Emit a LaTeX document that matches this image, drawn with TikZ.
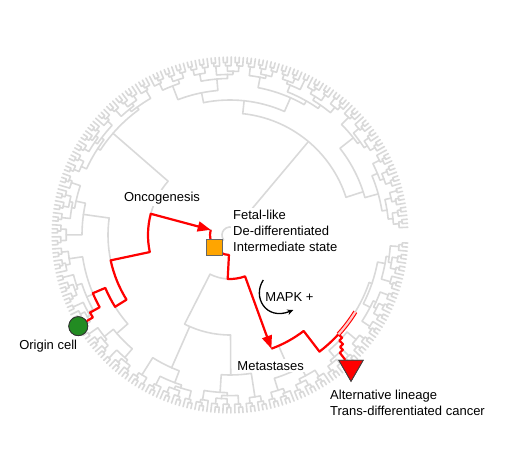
\documentclass[tikz,border=0pt]{standalone}
\usepackage{fontspec}
\setmainfont{Liberation Sans}
\usetikzlibrary{arrows.meta,shapes.geometric}
\definecolor{OriginGreen}{RGB}{34,139,34}
\definecolor{FetalOrange}{RGB}{255,165,0}

% leaves #1..#2, node radius #3, stem angle #4
\newcommand\DrawClade[4]{%
  \begingroup
  \pgfmathtruncatemacro\CladeN{#2-#1+1}%
  \ifnum\CladeN>1
    \pgfmathtruncatemacro\SplitHash{mod(#1*7+#2*3,5)}%
    \pgfmathsetmacro\SplitFrac{{0.5,0.3,0.6,0.4,0.7}[\SplitHash]}%
    \pgfmathtruncatemacro\SplitLeaf{max(#1,min(#2-1,#1+round(\CladeN*\SplitFrac)-1))}%
    \pgfmathtruncatemacro\NextLeaf{\SplitLeaf+1}%
    \pgfmathtruncatemacro\LeftN{\SplitLeaf-#1+1}%
    \pgfmathtruncatemacro\RightN{#2-\SplitLeaf}%
    \pgfmathsetmacro\LeftAng{\LeafStart+\LeafStep*(#1+\SplitLeaf)/2}%
    \pgfmathsetmacro\RightAng{\LeafStart+\LeafStep*(\NextLeaf+#2)/2}%
    \pgfmathsetmacro\LeftRad{\LeftN==1 ? \TipRadius : max(\TipRadius-\LevelHeight*log2(\LeftN),#3+3)}%
    \pgfmathsetmacro\RightRad{\RightN==1 ? \TipRadius : max(\TipRadius-\LevelHeight*log2(\RightN),#3+3)}%
    \draw[branch] (#4:#3) arc[start angle=#4, end angle=\LeftAng, radius=#3] -- (\LeftAng:\LeftRad);
    \draw[branch] (#4:#3) arc[start angle=#4, end angle=\RightAng, radius=#3] -- (\RightAng:\RightRad);
    \edef\NextClades{\noexpand\DrawClade{#1}{\SplitLeaf}{\LeftRad}{\LeftAng}\noexpand\DrawClade{\NextLeaf}{#2}{\RightRad}{\RightAng}}%
    \NextClades
  \fi
  \endgroup}

\begin{document}
\begin{tikzpicture}[x=1pt, y=1pt,
    font=\fontsize{13}{16}\selectfont,
    branch/.style={draw=black!15, line width=1.6pt, line cap=round, line join=round},
    redpath/.style={draw=red, line width=2.2pt, line join=round},
    redband/.style={draw=red, line width=1.1pt, double=red!20, double distance=2.2pt},
    bigtip/.style={-{Triangle[length=13pt,width=10pt]}},
    textlabel/.style={fill=white, inner sep=2pt, align=left},
    origin/.style={circle, fill=OriginGreen, draw=black!80, line width=0.8pt, minimum size=19pt, inner sep=0},
    fetal/.style={rectangle, fill=FetalOrange, draw=black!60, line width=0.8pt, minimum size=16pt, inner sep=0},
    altcell/.style={regular polygon, regular polygon sides=3, shape border rotate=180, fill=red, draw=black!75, line width=0.8pt, minimum size=28pt, inner sep=0}]

    \pgfmathsetmacro{\TipRadius}{178}
    \pgfmathsetmacro{\LeafStart}{2.5}
    \pgfmathsetmacro{\LeafStep}{1.3}
    \pgfmathsetmacro{\LevelHeight}{5.5}

    \useasboundingbox (-230,-217) rectangle (284,235);

    % ROOT
    \draw[branch] (50:8) arc[start angle=50, end angle=216, radius=8];
    \draw[branch] (50:8) -- (50:122);
    \draw[branch] (216:8) -- (216:20);

    % UPPER RIGHT
    \draw[branch] (18:122) arc[start angle=18, end angle=84, radius=122];
    \draw[branch] (18:122) -- (18:140);
    \draw[branch] (84:122) -- (84:135);
    \draw[branch] (66.2:135) arc[start angle=66.2, end angle=101.3, radius=135];
    \draw[branch] (66.2:135) -- (66.2:150);
    \draw[branch] (101.3:135) -- (101.3:145);
    \DrawClade{0}{34}{140}{18}
    \DrawClade{35}{63}{150}{66.2}
    \DrawClade{64}{88}{145}{101.3}

    % INNER ARC
    \draw[branch] (165:20) arc[start angle=165, end angle=267, radius=20];
    \draw[branch] (165:20) -- (165:82);
    \draw[branch] (267:20) -- (267:44);

    % LEFT
    \draw[branch] (139:82) arc[start angle=139, end angle=192, radius=82];
    \draw[branch] (139:82) -- (139:155);
    \draw[branch] (192:82) -- (192:122);
    \draw[branch] (172:122) arc[start angle=172, end angle=212, radius=122];
    \draw[branch] (172:122) -- (172:148);
    \draw[branch] (212:122) -- (212:135.5);
    \draw[branch] (203:135.5) arc[start angle=203, end angle=221, radius=135.5];
    \draw[branch] (203:135.5) -- (203:149);
    \draw[branch] (221:135.5) -- (221:150);
    \DrawClade{89}{120}{155}{139}
    \DrawClade{121}{139}{148}{172}
    \DrawClade{140}{162}{149}{203}
    \DrawClade{163}{178}{150}{221}

    % BOTTOM
    \draw[branch] (243:44) arc[start angle=243, end angle=290, radius=44];
    \draw[branch] (243:44) -- (243:100);
    \draw[branch] (290:44) -- (290:121);
    \draw[branch] (243:100) arc[start angle=243, end angle=270.3, radius=100];
    \draw[branch] (246.25:100) -- (246.25:145);
    \draw[branch] (270.3:100) -- (270.3:140);
    \draw[branch] (290:121) arc[start angle=290, end angle=307.5, radius=121];
    \draw[branch] (293.7:121) -- (293.7:150);
    \draw[branch] (307.5:121) -- (307.5:147);
    \draw[branch] (307.5:147) arc[start angle=307.5, end angle=341.15, radius=147];
    \draw[branch] (317.5:147) -- (317.5:152);
    \draw[branch] (341.15:147) -- (341.15:150);
    \DrawClade{179}{196}{145}{246.25}
    \DrawClade{197}{215}{140}{270.3}
    \DrawClade{216}{232}{150}{293.7}
    \DrawClade{233}{247}{152}{317.5}
    \DrawClade{248}{273}{150}{341.15}

    % LABELS
    \node[textlabel] (OncoLabel) at (-68,37) {Oncogenesis};
    \node[textlabel, anchor=west] (FetalLabel) at (1,4) {Fetal-like\\De-differentiated\\Intermediate state};
    \node[textlabel] (MapkLabel) at (59.5,-61.7) {MAPK +};
    \node[textlabel] (MetaLabel) at (40.7,-130.7) {Metastases};
    \node[textlabel] (OriginLabel) at (-181.8,-111) {Origin cell};
    \node[textlabel, anchor=west] (AltLabel) at (98,-168.3) {Alternative lineage\\Trans-differentiated cancer};

    % MARKERS
    \coordinate (OriginPos) at (211:177);
    \coordinate (FetalPos) at (219:20);
    \coordinate (AltPos) at (312.45:179.3);
    \coordinate (OncoTip) at (165:20);
    \coordinate (MetaTip) at (290:121);

    % RED PATH
    \path (OriginPos) node[origin] (OriginCell) {};
    \path (AltPos) node[altcell] (AltLineage) {};
    \draw[redpath, bigtip] (OriginCell) -- (211:160) arc[start angle=211, end angle=209, radius=160]
        -- (209:149) arc[start angle=209, end angle=203, radius=149]
        -- (203:135.5) arc[start angle=203, end angle=212, radius=135.5]
        -- (212:122) arc[start angle=212, end angle=192, radius=122]
        -- (192:82) arc[start angle=192, end angle=165, radius=82] -- (OncoTip);
    \draw[redpath] (OncoTip) arc[start angle=165, end angle=219, radius=20];
    \draw[redpath, bigtip] (FetalPos) arc[start angle=219, end angle=267, radius=20]
        -- (267:44) arc[start angle=267, end angle=290, radius=44] -- (MetaTip);
    \draw[redpath] (MetaTip) arc[start angle=290, end angle=307.5, radius=121]
        -- (307.5:147) arc[start angle=307.5, end angle=317.5, radius=147] coordinate (SplitPos)
        -- (317.5:152) arc[start angle=317.5, end angle=316, radius=152]
        -- (316:157) arc[start angle=316, end angle=314.5, radius=157]
        -- (314.5:161) arc[start angle=314.5, end angle=313, radius=161] -- (AltLineage);
    \draw[redband] (SplitPos) arc[start angle=317.5, end angle=328.5, radius=147];

    % markers on top
    \node[origin] at (OriginPos) {};
    \node[fetal] (FetalState) at (FetalPos) {};
    \node[altcell] at (AltPos) {};

    % MAPK LOOP
    \coordinate (MapkStart) at (33.3,-45);
    \coordinate (MapkEnd) at (63.3,-75);
    \draw[line width=1.3pt, -{Stealth[length=6pt,width=5.5pt]}] (MapkStart) .. controls (22,-62) and (36,-86) .. (MapkEnd);
\end{tikzpicture}
\end{document}
